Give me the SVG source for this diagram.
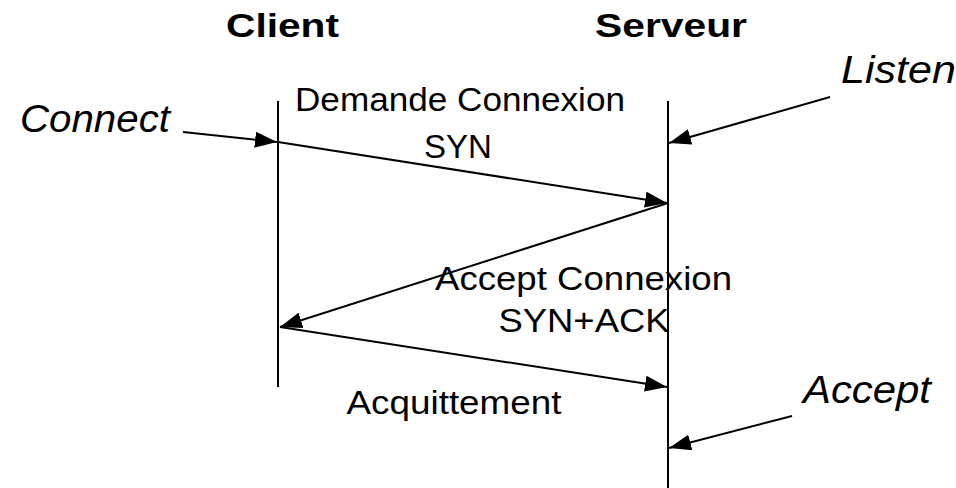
<svg xmlns="http://www.w3.org/2000/svg" width="956" height="488" viewBox="0 0 956 488">
<style>
  text { font-family: "Liberation Sans", Arial, sans-serif; fill: #000; }
  .title { font-weight: bold; font-size: 34px; text-anchor: middle; }
  .msg { font-size: 33px; text-anchor: middle; }
  .ev { font-size: 38px; font-style: italic; }
  .life { stroke: #000; stroke-width: 2; fill: none; }
  .arr { stroke: #000; stroke-width: 2; fill: none; marker-end: url(#head); }
</style>
<defs>
  <marker id="head" markerUnits="userSpaceOnUse" markerWidth="22" markerHeight="16" refX="22" refY="8" orient="auto" viewBox="0 0 22 16">
    <path d="M0,0 L22,8 L0,16 z" fill="#000"/>
  </marker>
</defs>
<rect width="956" height="488" fill="#fff"/>
<g id="client">
  <text class="title" x="282.5" y="37" textLength="113" lengthAdjust="spacingAndGlyphs">Client</text>
  <line class="life" x1="278" y1="101" x2="278" y2="387"/>
</g>
<g id="serveur">
  <text class="title" x="671" y="37" textLength="152" lengthAdjust="spacingAndGlyphs">Serveur</text>
  <line class="life" x1="668" y1="101" x2="668" y2="488"/>
</g>
<g id="connect">
  <text class="ev" x="20" y="132" textLength="150" lengthAdjust="spacingAndGlyphs">Connect</text>
</g>
<g id="listen">
  <text class="ev" x="841" y="83" textLength="115" lengthAdjust="spacingAndGlyphs">Listen</text>
</g>
<g id="accept">
  <text class="ev" x="803" y="403" textLength="128" lengthAdjust="spacingAndGlyphs">Accept</text>
</g>
<g id="msg-syn">
  <text class="msg" x="460" y="111" textLength="330" lengthAdjust="spacingAndGlyphs">Demande Connexion</text>
  <text class="msg" x="458" y="158">SYN</text>
</g>
<g id="msg-synack">
  <text class="msg" x="583.5" y="290" textLength="297" lengthAdjust="spacingAndGlyphs">Accept Connexion</text>
  <text class="msg" x="584" y="332" textLength="171" lengthAdjust="spacingAndGlyphs">SYN+ACK</text>
</g>
<g id="msg-ack">
  <text class="msg" x="454" y="414" textLength="215" lengthAdjust="spacingAndGlyphs">Acquittement</text>
</g>
<g id="connectors">
  <line class="arr" x1="183" y1="132" x2="277" y2="142"/>
  <line class="arr" x1="830" y1="97" x2="669" y2="143"/>
  <line class="arr" x1="278" y1="142" x2="667" y2="203"/>
  <line class="arr" x1="668" y1="203" x2="280" y2="327"/>
  <line class="arr" x1="280" y1="327" x2="667" y2="387"/>
  <line class="arr" x1="792" y1="416" x2="669" y2="448"/>
</g>
</svg>
